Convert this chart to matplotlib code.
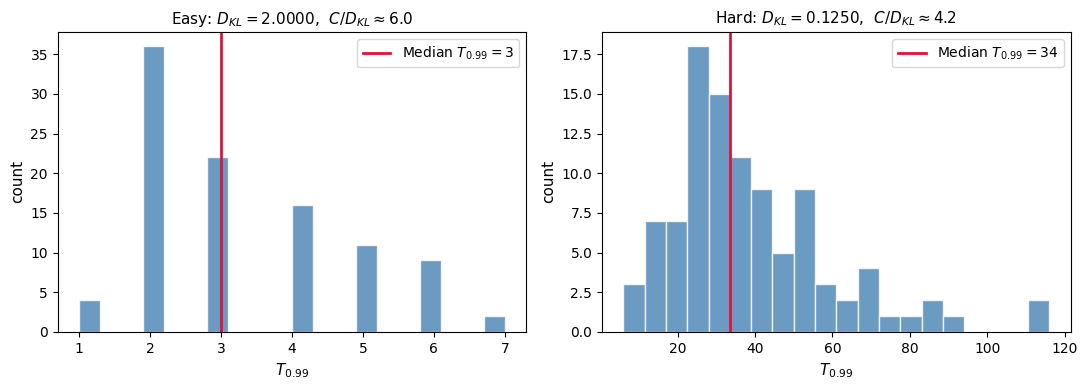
import numpy as np
import matplotlib.pyplot as plt

# easy task: T_0.99 values and how often each occurred
easy_T = [1, 2, 3, 4, 5, 6, 7]
easy_counts = [4, 36, 22, 16, 11, 9, 2]
easy_median = 3

# hard task: histogram counts over 20 bins from 6 to 116
hard_range = (6, 116)
hard_counts = [3, 7, 7, 18, 15, 11, 9, 5, 9, 3, 2, 4, 1, 1, 2, 1, 0, 0, 0, 2]
hard_median = 33.5
hard_median_label = 34

fig, axes = plt.subplots(1, 2, figsize=(10.88, 3.9))

ax = axes[0]
ax.hist(easy_T, bins=20, weights=easy_counts, color='steelblue', alpha=0.8, edgecolor='white')
ax.axvline(easy_median, color='crimson', lw=2, label=rf'Median $T_{{0.99}}={easy_median}$')
ax.set_title(r'Easy: $D_{KL}=2.0000$,  $C/D_{KL}\approx 6.0$', fontsize=11)
ax.set_xlabel(r'$T_{0.99}$', fontsize=11)
ax.set_ylabel('count', fontsize=11)
ax.legend(loc='upper right')

ax = axes[1]
edges = np.linspace(hard_range[0], hard_range[1], len(hard_counts) + 1)
ax.hist(edges[:-1], bins=edges, weights=hard_counts, color='steelblue', alpha=0.8, edgecolor='white')
ax.axvline(hard_median, color='crimson', lw=2, label=rf'Median $T_{{0.99}}={hard_median_label}$')
ax.set_title(r'Hard: $D_{KL}=0.1250$,  $C/D_{KL}\approx 4.2$', fontsize=11)
ax.set_xlabel(r'$T_{0.99}$', fontsize=11)
ax.set_ylabel('count', fontsize=11)
ax.legend(loc='upper right')

plt.subplots_adjust(left=0.053, right=0.984, bottom=0.149, top=0.918, wspace=0.162)
plt.savefig('out.png', dpi=100)
